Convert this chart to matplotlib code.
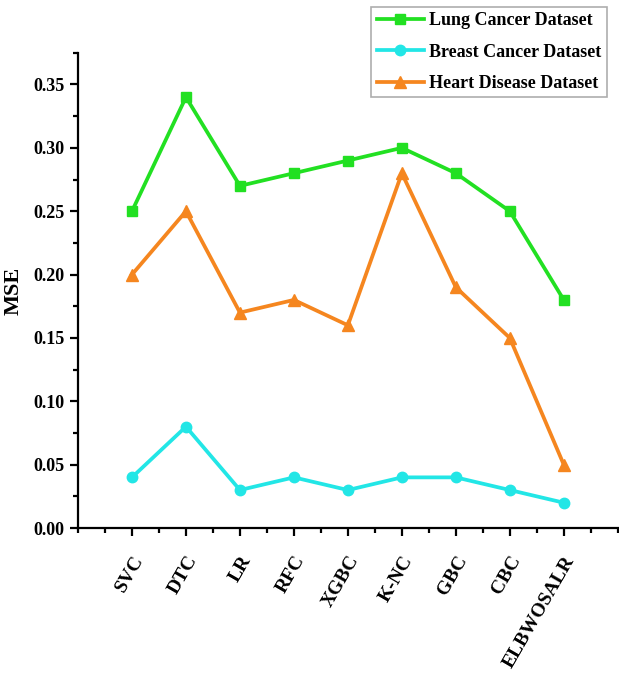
import numpy as np
import matplotlib
matplotlib.use('Agg')
import matplotlib.pyplot as plt
from matplotlib.ticker import MultipleLocator

plt.rcParams['font.family'] = ['Liberation Serif', 'DejaVu Serif']
plt.rcParams['font.weight'] = 'bold'

models = ['SVC', 'DTC', 'LR', 'RFC', 'XGBC', 'K-NC', 'GBC', 'CBC', 'ELBWOSALR']
lung = [0.25, 0.34, 0.27, 0.28, 0.29, 0.30, 0.28, 0.25, 0.18]
breast = [0.04, 0.08, 0.03, 0.04, 0.03, 0.04, 0.04, 0.03, 0.02]
heart = [0.20, 0.25, 0.17, 0.18, 0.16, 0.28, 0.19, 0.15, 0.05]

x = np.arange(1, len(models) + 1)

fig = plt.figure(figsize=(6.19, 6.77), dpi=100)
ax = fig.add_axes([0.126, 0.22, 0.872, 0.702])

ax.plot(x, lung, color='#22e022', lw=2.7, marker='s', ms=7, label='Lung Cancer Dataset')
ax.plot(x, breast, color='#22e6e6', lw=2.7, marker='o', ms=7.5, label='Breast Cancer Dataset')
ax.plot(x, heart, color='#f5861f', lw=2.7, marker='^', ms=8, label='Heart Disease Dataset')

ax.set_xlim(0, 10)
ax.set_ylim(0, 0.375)
ax.set_xticks(x)
ax.set_xticklabels(models, rotation=60, ha='right', va='top', rotation_mode='anchor',
                   fontsize=14, fontweight='bold')
ax.xaxis.set_minor_locator(MultipleLocator(0.5))
ax.yaxis.set_minor_locator(MultipleLocator(0.025))
yt = np.arange(0, 0.351, 0.05)
ax.set_yticks(yt)
ax.set_yticklabels(['%.2f' % v for v in yt], fontsize=13, fontweight='bold')
ax.set_ylabel('MSE', fontsize=16, fontweight='bold')
ax.yaxis.set_label_coords(-0.1, 0.5)

for s in ['top', 'right']:
    ax.spines[s].set_visible(False)
for s in ['left', 'bottom']:
    ax.spines[s].set_linewidth(1.6)
ax.tick_params(which='major', direction='out', length=6, width=1.6)
ax.tick_params(which='minor', direction='out', length=3.5, width=1.6)
ax.tick_params(axis='x', which='major', pad=12)

leg = fig.legend(loc='upper right', bbox_to_anchor=(0.98, 0.99),
                 prop={'weight': 'bold', 'size': 13}, frameon=True, fancybox=False,
                 edgecolor='#999999', handlelength=2.6, borderpad=0.3,
                 labelspacing=0.8, handletextpad=0.3, borderaxespad=0)
leg.get_frame().set_linewidth(1.2)

fig.savefig('out.png', dpi=100)
